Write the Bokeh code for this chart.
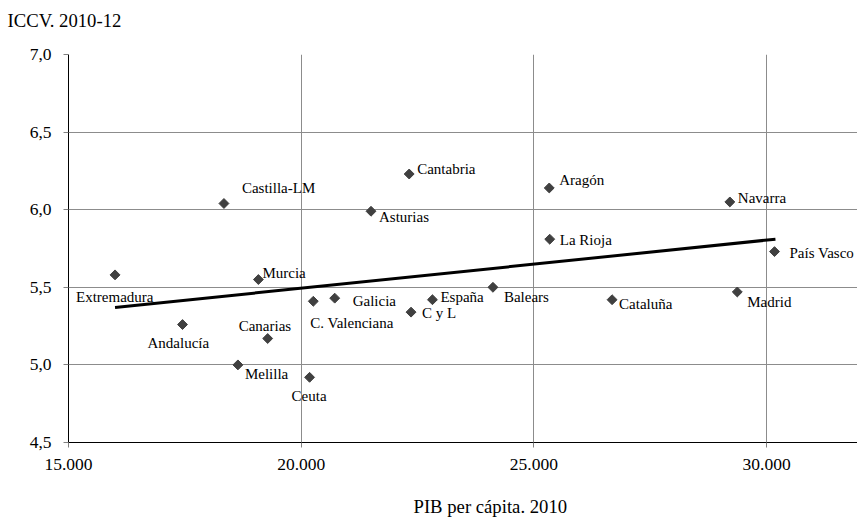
import numpy as np
from bokeh.plotting import figure
from bokeh.models import ColumnDataSource, FixedTicker, Title, Range1d
from bokeh.core.properties import value
from bokeh.embed import file_html
from bokeh.resources import INLINE

# ---- data ----
regions = ["Extremadura", "Andalucía", "Castilla-LM", "Murcia", "Canarias", "Melilla",
           "Ceuta", "C. Valenciana", "Galicia", "C y L", "España", "Balears",
           "Cantabria", "Aragón", "Asturias", "La Rioja", "Navarra", "País Vasco",
           "Cataluña", "Madrid"]
pib = [16000, 17450, 18340, 19080, 19280, 18640,
       20180, 20260, 20720, 22360, 22820, 24120,
       22320, 25330, 21500, 25340, 29210, 30170,
       26680, 29370]
iccv = [5.58, 5.26, 6.04, 5.55, 5.17, 5.00,
        4.92, 5.41, 5.43, 5.34, 5.42, 5.50,
        6.23, 6.14, 5.99, 5.81, 6.05, 5.73,
        5.42, 5.47]
trend_x = [16000, 30190]
trend_y = [5.37, 5.81]

x_ticks = [15000, 20000, 25000, 30000]
x_tick_labels = ["15.000", "20.000", "25.000", "30.000"]
y_ticks = [4.5, 5.0, 5.5, 6.0, 6.5, 7.0]
y_tick_labels = ["4,5", "5,0", "5,5", "6,0", "6,5", "7,0"]

y_title = "ICCV. 2010-12"
x_title = "PIB per cápita. 2010"

# label placement (screen pixel offsets from each point)
label_dx = [-39, -35, 18, 4, -29, 7, -18, -3, 18, 11, 8, 11, 8, 10, 8, 10, 8, 15, 7, 10]
label_dy = [22, 18, -15, -7, -13, 9, 19, 22, 3, 1, -3, 10, -5, -8, 6, 1, -4, 1, 4, 10]

FONT = "Liberation Serif"

W, H = 857, 517
p = figure(width=W, height=H, output_backend="svg", toolbar_location=None,
           x_range=Range1d(15000, 31953), y_range=Range1d(4.5, 7.0),
           min_border_left=68, min_border_right=0, min_border_top=54, min_border_bottom=75)
p.outline_line_color = None
p.background_fill_color = "white"
p.border_fill_color = "white"

for ax, ticks, labels in ((p.xaxis, x_ticks, x_tick_labels), (p.yaxis, y_ticks, y_tick_labels)):
    ax.ticker = FixedTicker(ticks=ticks)
    ax.major_label_overrides = {float(t): l for t, l in zip(ticks, labels)}
    ax.axis_line_color = "black"
    ax.axis_line_width = 1
    ax.major_tick_line_color = "#808080"
    ax.major_tick_in = 0
    ax.major_tick_out = 5
    ax.minor_tick_line_color = None
    ax.major_label_text_font = FONT
    ax.major_label_text_font_size = "17.5px"
    ax.major_label_text_color = "black"
p.xaxis.major_label_standoff = 11
p.yaxis.major_label_standoff = 12

p.xgrid.ticker = FixedTicker(ticks=x_ticks)
p.ygrid.ticker = FixedTicker(ticks=y_ticks)
for g in (p.xgrid, p.ygrid):
    g.grid_line_color = "#8c8c8c"
    g.grid_line_width = 1

src = ColumnDataSource(dict(x=pib, y=iccv, name=regions, dx=label_dx, dy=label_dy))
p.scatter("x", "y", source=src, marker="square", angle=np.pi / 4, size=7,
          fill_color="#404040", line_color="#404040")
p.text("x", "y", text="name", source=src, x_offset="dx", y_offset="dy",
       text_font=value(FONT), text_font_size="15px", text_color="black",
       text_align="left", text_baseline="middle")
p.line(trend_x, trend_y, line_width=3, line_color="black")

# axis titles (an empty second line is used as vertical padding)
p.title = Title(text=y_title + "\n", align="left", offset=-61, standoff=6,
                vertical_align="bottom",
                text_font=FONT, text_font_size="18.7px", text_font_style="normal",
                text_color="black", text_line_height=1.0)
xt = Title(text="\n" + x_title, align="left", offset=345, standoff=0,
           vertical_align="bottom",
           text_font=FONT, text_font_size="18.7px", text_font_style="normal",
           text_color="black", text_line_height=1.0)
p.add_layout(xt, "below")

open("out.html", "w").write(file_html(p, INLINE))
